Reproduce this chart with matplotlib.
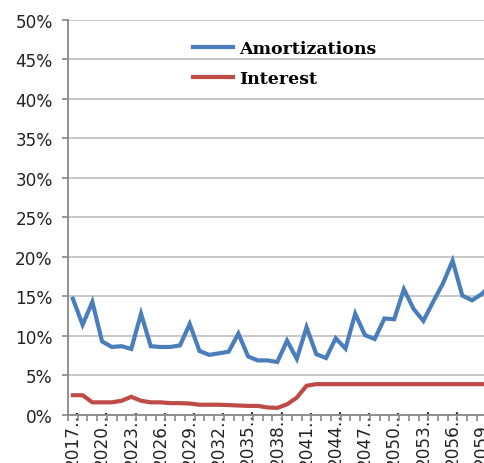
import matplotlib
matplotlib.use("Agg")
import matplotlib.pyplot as plt
import numpy as np

# categories (years) shown on the x axis
years = list(range(2017, 2061))

# share of amortizations per year (in %)
amortizations = [14.7, 11.4, 14.3, 9.3, 8.6, 8.7, 8.35, 12.8, 8.7, 8.6,
                 8.6, 8.8, 11.5, 8.1, 7.6, 7.8, 8.0, 10.3, 7.4, 6.9,
                 6.9, 6.7, 9.4, 7.1, 11.1, 7.7, 7.2, 9.7, 8.4, 12.8,
                 10.1, 9.6, 12.2, 12.1, 15.9, 13.4, 11.9, 14.3, 16.6, 19.5,
                 15.1, 14.5, 15.3, 16.5]

# share of interest per year (in %)
interest = [2.5, 2.5, 1.6, 1.6, 1.6, 1.8, 2.3, 1.8, 1.6, 1.6,
            1.5, 1.5, 1.45, 1.3, 1.3, 1.3, 1.25, 1.2, 1.15, 1.15,
            0.95, 0.9, 1.35, 2.2, 3.7, 3.9, 3.9, 3.9, 3.9, 3.9,
            3.9, 3.9, 3.9, 3.9, 3.9, 3.9, 3.9, 3.9, 3.9, 3.9,
            3.9, 3.9, 3.9, 3.9]

series_names = ["Amortizations", "Interest"]
yticks = np.arange(0, 51, 5)

W, H = 485, 464
fig = plt.figure(figsize=(W / 100, H / 100), dpi=100)
ax = fig.add_axes([68 / W, 1 - 416 / H, 1 - 68 / W, (416 - 20.5) / H])

x = np.arange(len(years))
ax.plot(x, np.array(amortizations) / 100, color="#4a7ebb", lw=3.0,
        solid_joinstyle="miter", label=series_names[0])
ax.plot(x, np.array(interest) / 100, color="#be4b48", lw=3.0,
        solid_joinstyle="round", label=series_names[1])

ax.set_yticks(yticks / 100)
ax.set_yticklabels([f"{v}%" for v in yticks])
ax.yaxis.grid(True, color="#c4c4c4", lw=1.3)
ax.set_axisbelow(True)

# labels every 3 years at category centers, ticks at category boundaries
ax.set_xticks(x[::3])
ax.set_xticklabels([f"{y}\u2026" for y in years[::3]], rotation=90, va="top")
ax.set_xticks(np.arange(-0.5, len(years), 1), minor=True)
# limits after the ticks, set_xticks widens the view otherwise
ax.set_ylim(0, 0.5)
ax.set_xlim(-0.5, 42.33)

ax.tick_params(axis="x", which="major", length=0, pad=-6)
ax.tick_params(axis="x", which="minor", length=4, width=1.2, color="#888888")
ax.tick_params(axis="y", length=4, width=1.2, color="#888888", pad=7)
for lab in ax.get_xticklabels() + ax.get_yticklabels():
    lab.set_fontsize(12.2)
    lab.set_color("#222222")

for s in ["top", "right"]:
    ax.spines[s].set_visible(False)
for s in ["left", "bottom"]:
    ax.spines[s].set_color("#888888")
    ax.spines[s].set_linewidth(1.3)

leg = ax.legend(loc="upper left", bbox_to_anchor=(193 / W, 1 - 41 / H),
                bbox_transform=fig.transFigure, frameon=False, borderpad=0,
                borderaxespad=0, handlelength=2.3, handletextpad=0.35,
                labelspacing=0.75,
                prop={"family": "DejaVu Serif", "weight": "bold", "size": 12.5})

fig.savefig("out.png", dpi=100)
